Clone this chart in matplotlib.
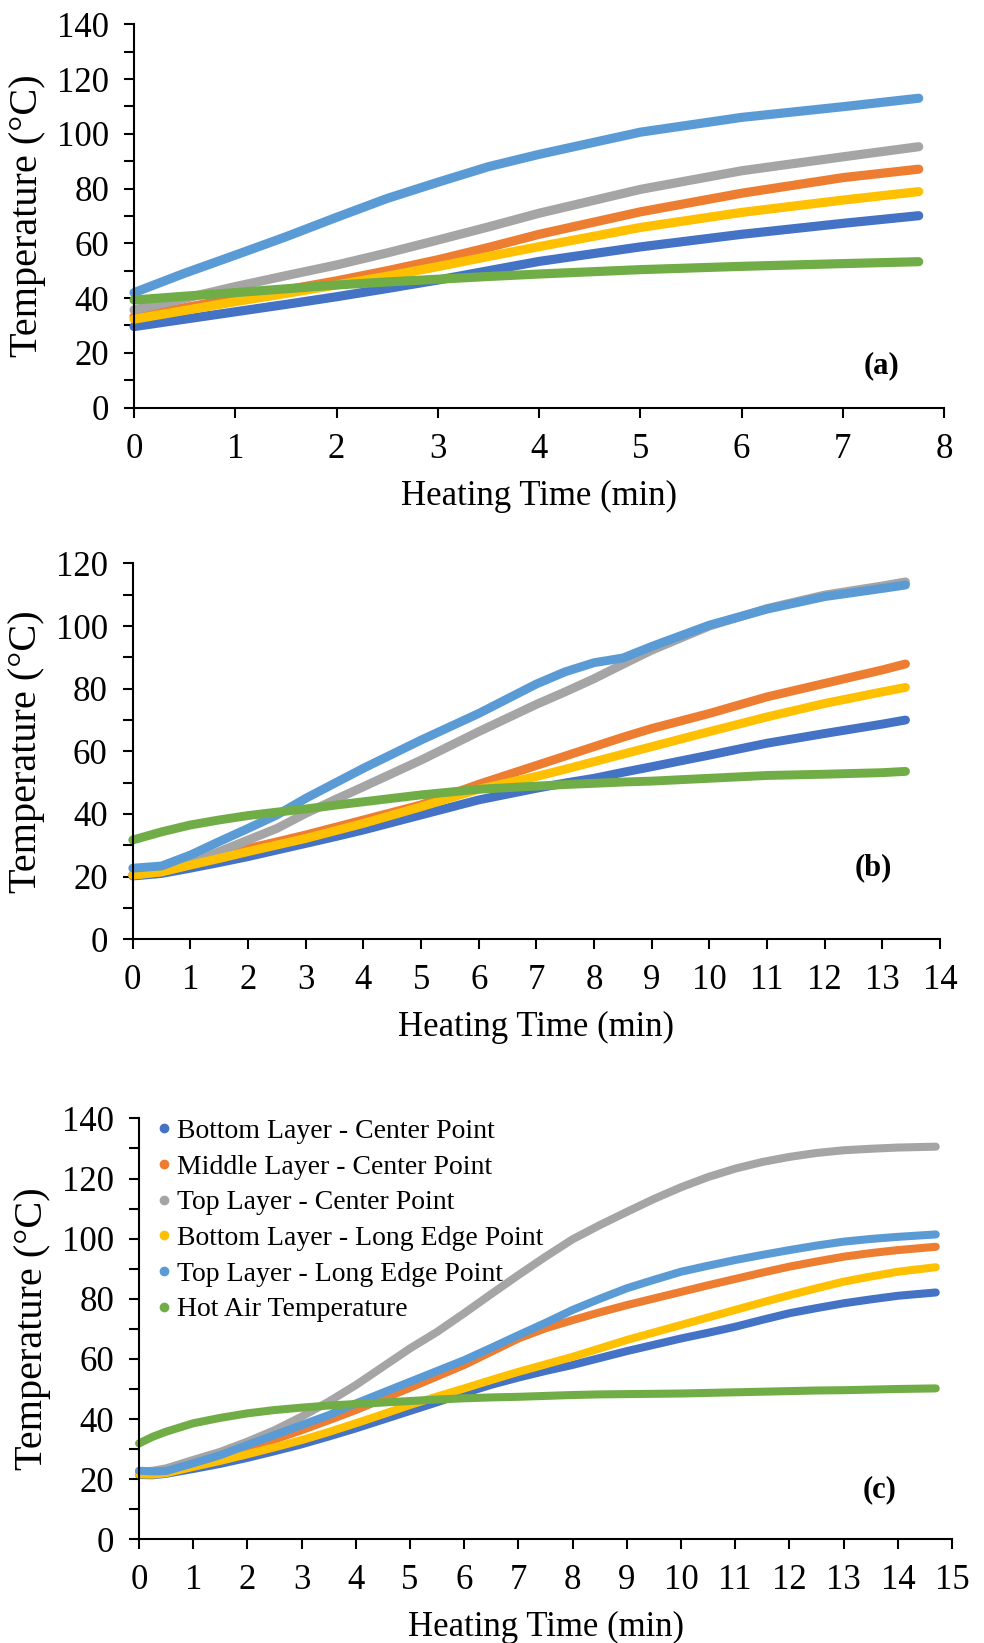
import matplotlib
matplotlib.use("Agg")
import matplotlib.pyplot as plt
from matplotlib.lines import Line2D
from matplotlib.ticker import MultipleLocator

# series names and colours (Excel default palette)
series_names = [
    "Bottom Layer - Center Point",
    "Middle Layer - Center Point",
    "Top Layer - Center Point",
    "Bottom Layer - Long Edge Point",
    "Top Layer - Long Edge Point",
    "Hot Air Temperature",
]
series_colors = ["#4472C4", "#ED7D31", "#A5A5A5", "#FFC000", "#5B9BD5", "#70AD47"]

# panel (a)
time_a = [0, 0.5, 1, 1.5, 2, 2.5, 3, 3.5, 4, 5, 6, 7, 7.75]
bottom_center_a = [29.6, 32.3, 35.0, 37.7, 40.5, 43.5, 46.6, 50.0, 53.4, 58.7, 63.3, 67.3, 70.1]
middle_center_a = [33.2, 36.5, 39.9, 43.0, 46.3, 50.0, 54.0, 58.5, 63.3, 71.5, 78.3, 84.0, 87.1]
top_center_a = [35.7, 39.9, 44.2, 48.2, 52.1, 56.5, 61.2, 66.0, 71.0, 79.7, 86.5, 91.6, 95.3]
bottom_edge_a = [32.3, 35.5, 38.7, 41.7, 44.8, 48.0, 51.5, 55.2, 58.8, 65.8, 71.3, 75.8, 78.9]
top_edge_a = [42.0, 49.1, 55.7, 62.4, 69.5, 76.4, 82.3, 88.0, 92.5, 100.6, 106.0, 109.9, 113.0]
hot_air_a = [39.3, 40.7, 42.0, 43.4, 44.8, 45.9, 46.9, 47.9, 48.8, 50.4, 51.6, 52.6, 53.3]

# panel (b)
time_b = [0, 0.5, 1, 1.5, 2, 2.5, 3, 3.5, 4, 5, 6, 7, 7.5, 8, 8.5, 9, 10, 11, 12, 13, 13.4]
bottom_center_b = [20.2, 21.0, 22.7, 24.5, 26.4, 28.5, 30.6, 32.7, 34.9, 39.7, 44.5, 48.2,
                   49.9, 51.4, 53.3, 55.1, 58.8, 62.6, 65.7, 68.7, 70.0]
middle_center_b = [20.5, 22.0, 24.8, 26.9, 29.0, 31.1, 33.3, 35.7, 38.1, 42.9, 49.5, 55.5,
                   58.5, 61.5, 64.5, 67.3, 72.1, 77.4, 81.7, 86.0, 87.9]
top_center_b = [20.5, 21.6, 24.3, 28.0, 31.7, 35.4, 40.2, 44.5, 48.7, 57.2, 66.3, 75.0,
                79.0, 83.2, 87.8, 92.3, 100.0, 105.6, 109.9, 112.8, 114.1]
bottom_edge_b = [20.5, 21.5, 23.7, 25.8, 28.0, 30.1, 32.2, 34.6, 37.0, 42.3, 47.9, 52.0,
                 54.3, 56.7, 59.1, 61.5, 66.3, 71.0, 75.3, 79.0, 80.4]
top_edge_b = [22.7, 23.4, 26.9, 31.2, 35.4, 39.7, 45.0, 49.8, 54.6, 63.6, 72.1, 81.5,
              85.4, 88.3, 89.8, 93.5, 100.3, 105.4, 109.4, 112.0, 113.1]
hot_air_b = [31.7, 34.3, 36.5, 38.1, 39.5, 40.6, 41.6, 42.8, 43.9, 46.1, 47.9, 48.9,
             49.4, 49.8, 50.2, 50.5, 51.4, 52.3, 52.7, 53.2, 53.6]

# panel (c)
time_c = [0, 0.25, 0.5, 1, 1.5, 2, 2.5, 3, 3.5, 4, 4.5, 5, 5.5, 6, 6.5, 7, 7.5, 8, 8.5, 9,
          9.5, 10, 10.5, 11, 11.5, 12, 12.5, 13, 13.5, 14, 14.7]
bottom_center_c = [21.4, 21.3, 21.8, 23.4, 25.1, 27.1, 29.3, 31.6, 34.2, 36.9, 39.8, 42.7,
                   45.6, 48.6, 51.4, 53.8, 56.0, 58.0, 60.3, 62.6, 64.7, 66.8, 68.7, 70.7,
                   73.0, 75.2, 76.9, 78.5, 79.8, 81.0, 82.1]
middle_center_c = [22.4, 22.2, 22.6, 25.3, 27.6, 30.3, 33.2, 36.3, 39.6, 43.0, 46.7, 50.4,
                   54.2, 58.0, 62.4, 66.8, 70.2, 72.9, 75.5, 77.9, 80.1, 82.3, 84.5, 86.6,
                   88.7, 90.7, 92.4, 94.0, 95.2, 96.2, 97.3]
top_center_c = [22.5, 22.8, 23.6, 26.4, 29.1, 32.5, 36.3, 40.8, 45.8, 51.3, 57.4, 63.5,
                69.0, 75.2, 81.6, 87.9, 94.0, 99.8, 104.5, 108.9, 113.2, 117.1, 120.5, 123.3,
                125.5, 127.2, 128.5, 129.4, 129.9, 130.3, 130.6]
bottom_edge_c = [21.6, 21.5, 22.0, 24.1, 26.1, 28.3, 30.6, 33.0, 35.7, 38.6, 41.6, 44.7,
                 47.5, 50.2, 53.0, 55.7, 58.2, 60.7, 63.5, 66.3, 68.8, 71.3, 73.8, 76.3,
                 78.8, 81.2, 83.5, 85.7, 87.4, 89.0, 90.5]
top_edge_c = [22.8, 22.6, 22.7, 25.3, 28.0, 31.4, 34.7, 38.0, 41.3, 45.2, 48.8, 52.4,
              56.0, 59.6, 63.7, 67.9, 72.0, 76.3, 80.0, 83.5, 86.3, 89.0, 91.0, 92.9,
              94.6, 96.2, 97.7, 99.0, 99.9, 100.6, 101.4]
hot_air_c = [31.9, 34.1, 35.8, 38.6, 40.4, 41.9, 43.0, 43.8, 44.5, 45.0, 45.5, 46.0,
             46.5, 46.9, 47.2, 47.4, 47.7, 48.0, 48.2, 48.3, 48.4, 48.5, 48.7, 48.9,
             49.1, 49.3, 49.5, 49.6, 49.8, 50.0, 50.2]

plt.rcParams["font.family"] = ["Liberation Serif", "DejaVu Serif"]

fig = plt.figure(figsize=(9.84, 16.43), dpi=100)

panels = [
    dict(rect=[0.1362, 0.7519, 0.8232, 0.2333], time=time_a,
         series=[bottom_center_a, middle_center_a, top_center_a, bottom_edge_a, top_edge_a, hot_air_a],
         xmax=8, ymax=140, lw=6.6, tag="(a)", tag_xy=(0.923, 0.109)),
    dict(rect=[0.1349, 0.4283, 0.8205, 0.2288], time=time_b,
         series=[bottom_center_b, middle_center_b, top_center_b, bottom_edge_b, top_edge_b, hot_air_b],
         xmax=14, ymax=120, lw=6.4, tag="(b)", tag_xy=(0.917, 0.19)),
    dict(rect=[0.1413, 0.0631, 0.8262, 0.2562], time=time_c,
         series=[bottom_center_c, middle_center_c, top_center_c, bottom_edge_c, top_edge_c, hot_air_c],
         xmax=15, ymax=140, lw=5.8, tag="(c)", tag_xy=(0.911, 0.117)),
]

for i, p in enumerate(panels):
    ax = fig.add_axes(p["rect"])
    for vals, color in zip(p["series"], series_colors):
        ax.plot(p["time"], vals, color=color, lw=p["lw"], solid_capstyle="round",
                solid_joinstyle="round", clip_on=False)

    ax.set_xlim(0, p["xmax"])
    ax.set_ylim(0, p["ymax"])
    ax.xaxis.set_major_locator(MultipleLocator(1))
    ax.yaxis.set_major_locator(MultipleLocator(20))
    ax.yaxis.set_minor_locator(MultipleLocator(10))

    for side in ("top", "right"):
        ax.spines[side].set_visible(False)
    for side in ("left", "bottom"):
        ax.spines[side].set_linewidth(1.5)

    ax.tick_params(which="both", direction="out", length=7, width=1.5, labelsize=25, pad=11)
    ax.set_xlabel("Heating Time (min)", fontsize=25, labelpad=10)
    ax.set_ylabel("Temperature (°C)", fontsize=29, labelpad=8)
    ax.text(p["tag_xy"][0], p["tag_xy"][1], p["tag"], transform=ax.transAxes,
            fontsize=22, fontweight="bold", ha="center", va="center")

    if i == 2:
        handles = [Line2D([], [], marker="o", ls="none", color=c, markersize=6)
                   for c in series_colors]
        ax.legend(handles, series_names, loc="upper left", bbox_to_anchor=(0.021, 1.0),
                  frameon=False, fontsize=20, borderpad=0, borderaxespad=0,
                  handlelength=0.6, handletextpad=0.15, labelspacing=0.37)

fig.savefig("out.png", dpi=100)
